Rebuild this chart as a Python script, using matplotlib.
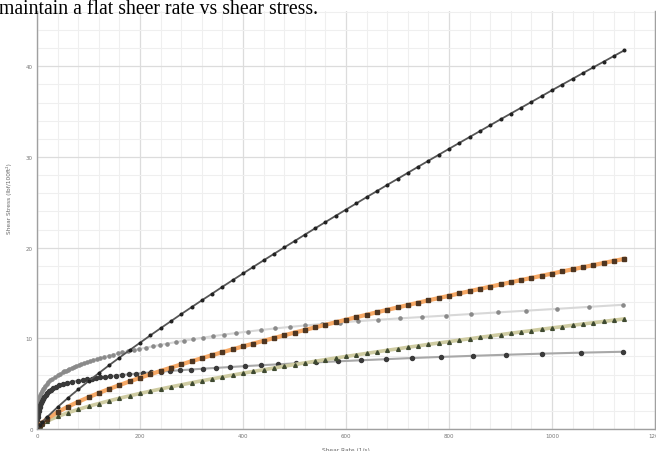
import matplotlib
matplotlib.use("Agg")
import matplotlib.pyplot as plt
from matplotlib.ticker import MultipleLocator

# shear rate (1/s) for the three steadily rising series
rate_lin = [0, 5, 10, 20, 40, 60, 80, 100, 120, 140, 160, 180, 200, 220, 240, 260, 280, 300,
            320, 340, 360, 380, 400, 420, 440, 460, 480, 500, 520, 540, 560, 580, 600, 620,
            640, 660, 680, 700, 720, 740, 760, 780, 800, 820, 840, 860, 880, 900, 920, 940,
            960, 980, 1000, 1020, 1040, 1060, 1080, 1100, 1120, 1140]
stress_black = [0, 0.41, 0.75, 1.34, 2.42, 3.42, 4.36, 5.28, 6.16, 7.03, 7.87, 8.70, 9.51, 10.32,
                11.11, 11.89, 12.67, 13.43, 14.19, 14.93, 15.68, 16.42, 17.15, 17.88, 18.60, 19.31,
                20.02, 20.72, 21.43, 22.13, 22.82, 23.51, 24.20, 24.88, 25.57, 26.24, 26.92, 27.58,
                28.25, 28.92, 29.58, 30.24, 30.90, 31.55, 32.20, 32.85, 33.50, 34.15, 34.79, 35.43,
                36.07, 36.71, 37.36, 37.99, 38.62, 39.25, 39.88, 40.50, 41.13, 41.75]
stress_orange = [0, 0.44, 0.71, 1.15, 1.86, 2.46, 3.00, 3.50, 3.97, 4.41, 4.84, 5.25, 5.65, 6.03,
                 6.40, 6.77, 7.12, 7.47, 7.81, 8.14, 8.47, 8.79, 9.11, 9.42, 9.73, 10.03, 10.33,
                 10.63, 10.92, 11.21, 11.49, 11.77, 12.05, 12.33, 12.60, 12.87, 13.14, 13.40, 13.67,
                 13.93, 14.19, 14.44, 14.69, 14.95, 15.20, 15.45, 15.70, 15.94, 16.18, 16.43, 16.66,
                 16.90, 17.14, 17.38, 17.61, 17.84, 18.07, 18.31, 18.54, 18.76]
stress_olive = [0, 0.36, 0.56, 0.88, 1.38, 1.79, 2.16, 2.50, 2.81, 3.11, 3.39, 3.66, 3.92, 4.17,
                4.41, 4.65, 4.87, 5.10, 5.32, 5.53, 5.74, 5.95, 6.15, 6.35, 6.54, 6.73, 6.92, 7.11,
                7.29, 7.47, 7.65, 7.83, 8.00, 8.17, 8.34, 8.51, 8.68, 8.84, 9.01, 9.17, 9.33, 9.49,
                9.64, 9.80, 9.95, 10.11, 10.26, 10.41, 10.56, 10.71, 10.85, 11.00, 11.15, 11.29,
                11.44, 11.58, 11.72, 11.86, 12.00, 12.14]

# light grey series (log spaced rates)
rate_light = [0, 0.5, 0.8, 1.2, 1.7, 2.3, 3, 3.8, 4.8, 6, 7.5, 9, 11, 13, 16, 19, 22, 26, 30, 35,
              40, 45, 50, 53, 56, 60, 63, 67, 72, 76, 81, 86, 91, 97, 103, 109, 116, 123, 131,
              139, 147, 157, 166, 177, 188, 199, 212, 225, 239, 253, 269, 286, 303, 322, 342,
              363, 386, 410, 435, 462, 491, 521, 553, 588, 624, 663, 704, 747, 794, 843, 895,
              950, 1009, 1072, 1138]
stress_light = [0, 1.7, 2.0, 2.30, 2.58, 2.84, 3.08, 3.30, 3.52, 3.74, 3.96, 4.15, 4.36, 4.54,
                4.78, 4.98, 5.16, 5.37, 5.55, 5.75, 5.93, 6.10, 6.26, 6.35, 6.44, 6.54, 6.63,
                6.73, 6.84, 6.94, 7.05, 7.16, 7.27, 7.38, 7.49, 7.60, 7.72, 7.84, 7.96, 8.08,
                8.20, 8.33, 8.45, 8.58, 8.71, 8.84, 8.98, 9.12, 9.27, 9.42, 9.58, 9.74, 9.90,
                10.07, 10.24, 10.41, 10.58, 10.75, 10.92, 11.09, 11.26, 11.42, 11.58, 11.74,
                11.90, 12.05, 12.20, 12.35, 12.51, 12.68, 12.86, 13.05, 13.25, 13.47, 13.70]

# dark grey series (log spaced rates)
rate_dark = [0, 0.7, 1.3, 2, 3, 4, 5, 6.5, 8, 10, 12, 14, 17, 20, 24, 28, 32, 37, 43, 50, 58,
             68, 79, 90, 98, 106, 114, 123, 132, 142, 153, 165, 178, 192, 206, 222, 240, 258,
             278, 299, 322, 347, 374, 403, 434, 467, 503, 542, 584, 629, 677, 729, 785, 846,
             911, 981, 1057, 1138]
stress_dark = [0, 0.95, 1.3, 1.62, 1.95, 2.2, 2.4, 2.66, 2.88, 3.12, 3.35, 3.53, 3.76, 3.95,
               4.16, 4.33, 4.48, 4.64, 4.80, 4.96, 5.11, 5.22, 5.32, 5.41, 5.48, 5.55, 5.62,
               5.69, 5.76, 5.82, 5.89, 5.96, 6.03, 6.10, 6.17, 6.25, 6.32, 6.40, 6.48, 6.56,
               6.65, 6.74, 6.83, 6.93, 7.03, 7.13, 7.24, 7.35, 7.46, 7.58, 7.70, 7.83, 7.95,
               8.07, 8.19, 8.31, 8.42, 8.52]

x_ticks = [0, 200, 400, 600, 800, 1000, 1200]
y_ticks = [0, 10, 20, 30, 40]

fig = plt.figure(figsize=(6.56, 4.52), dpi=100)
ax = fig.add_axes([37 / 656, 22 / 452, 618 / 656, 418 / 452])

# grid: minor every 40 / 2, major every 200 / 10
ax.xaxis.set_minor_locator(MultipleLocator(40))
ax.yaxis.set_minor_locator(MultipleLocator(2))
ax.grid(which="minor", color="#efefef", linewidth=0.8)
ax.grid(which="major", color="#dcdcdc", linewidth=0.9)
ax.set_axisbelow(True)

ax.plot(rate_light, stress_light, color="#d8d8d8", linewidth=1.5,
        marker="o", markersize=2.3, markerfacecolor="#8a8a8a", markeredgecolor="#8a8a8a")
ax.plot(rate_dark, stress_dark, color="#a8a8a8", linewidth=1.5,
        marker="o", markersize=2.9, markerfacecolor="#3a3a3a", markeredgecolor="#3a3a3a")
ax.plot(rate_lin, stress_olive, color="#cfcca2", linewidth=2.6,
        marker="^", markersize=2.7, markerfacecolor="#3f4a30", markeredgecolor="#3f4a30")
ax.plot(rate_lin, stress_orange, color="#f6a865", linewidth=3.0,
        marker="s", markersize=2.6, markerfacecolor="#4e3520", markeredgecolor="#4e3520")
ax.plot(rate_lin, stress_black, color="#555555", linewidth=1.3,
        marker="o", markersize=1.9, markerfacecolor="#222222", markeredgecolor="#222222")

ax.set_xlim(0, 1200)
ax.set_ylim(0, 46.1)
ax.set_xticks(x_ticks)
ax.set_yticks(y_ticks)
ax.tick_params(which="both", length=0, labelsize=4, labelcolor="#777777", pad=3)

for side in ["left", "bottom", "right"]:
    ax.spines[side].set_color("#a0a0a0")
    ax.spines[side].set_linewidth(1.0)
ax.spines["top"].set_visible(False)

ax.set_xlabel("Shear Rate (1/s)", fontsize=4.2, color="#666666")
ax.xaxis.set_label_coords(0.5, -0.042)
ax.set_ylabel("Shear Stress (lbf/100ft²)", fontsize=4.2, color="#666666")
ax.yaxis.set_label_coords(-0.04, 0.553)

# document text that sits above the chart in the screenshot
fig.text(-0.002, 1 - 14 / 452, "maintain a flat sheer rate vs shear stress.",
         fontsize=14.2, family="Liberation Serif", color="black", va="baseline", ha="left")

fig.savefig("out.png", dpi=100, facecolor="white")
